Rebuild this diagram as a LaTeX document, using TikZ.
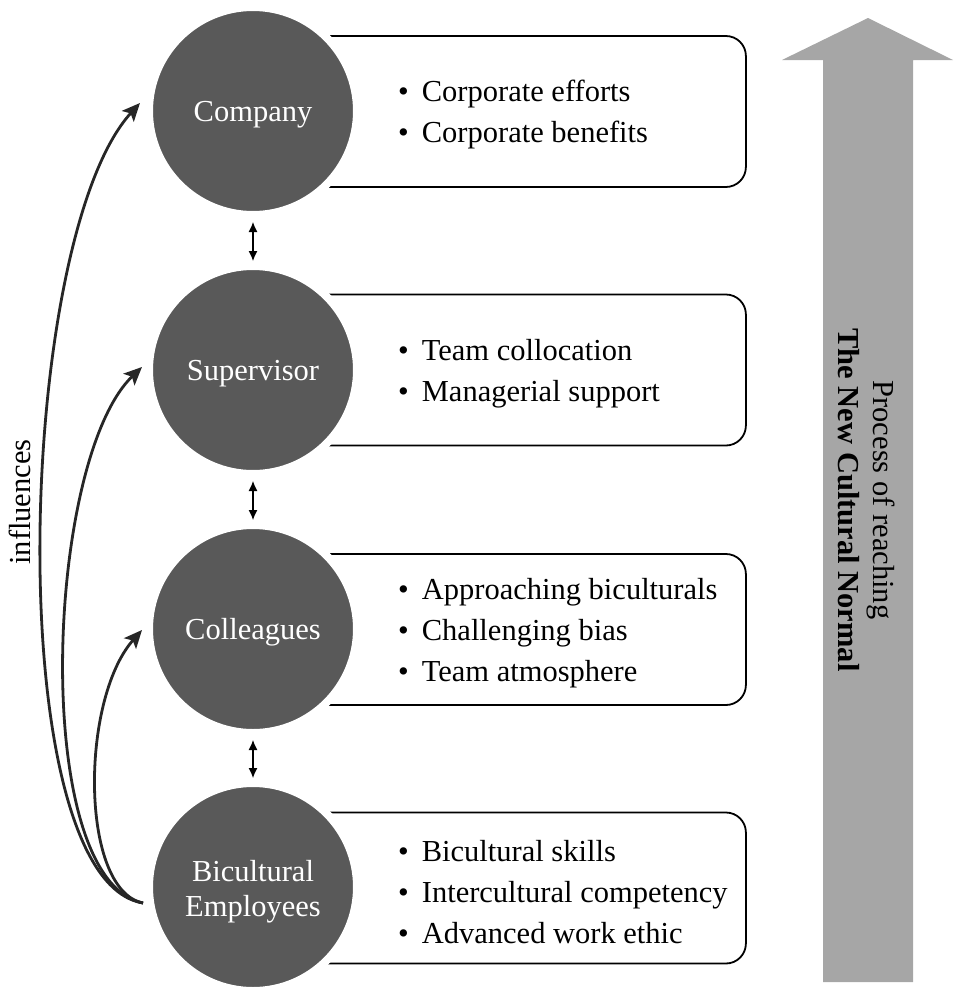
\documentclass[tikz,border=0pt]{standalone}
\usepackage{fontspec}
\setmainfont{Liberation Serif}
\usetikzlibrary{arrows.meta}
\definecolor{circgray}{HTML}{595959}
\definecolor{arrgray}{HTML}{A6A6A6}
\newcommand{\itm}{\textbullet\hspace{13pt}}
\begin{document}
\begin{tikzpicture}[x=1pt,y=-1pt,
 txt/.style={font=\fontsize{30.5}{41}\selectfont},
 circ/.style={circle, fill=circgray, draw=white, line width=8pt, minimum size=208pt, inner sep=0pt, text=white, align=center, text depth=0pt, font=\fontsize{30.5}{35}\selectfont},
 boxst/.style={draw=black, line width=1.8pt, rounded corners=20pt, minimum width=492pt, minimum height=151pt, anchor=west, inner sep=0pt},
 items/.style={txt, align=left, anchor=west, inner sep=0pt},
 dbl/.style={{Latex[length=10pt,width=9pt]}-{Latex[length=10pt,width=9pt]}, line width=1.2pt},
 infl/.style={-{Stealth[length=18pt,width=16pt,inset=4pt]}, line width=2.8pt, draw=black!85, fill=none}
]
\useasboundingbox (0,0) rectangle (953,993);
% big arrow
\fill[arrgray] (823,982) -- (823,60) -- (782,60) -- (868,18) -- (953,60) -- (913,60) -- (913,982) -- cycle;
\node[txt, rotate=-90, align=center, font=\fontsize{30.5}{35}\selectfont] (proc) at (867,500) {Process of reaching\\\textbf{The New Cultural Normal}};
% boxes
\node[boxst] (b1) at (253,111.5) {};
\node[boxst] (b2) at (253,370) {};
\node[boxst] (b3) at (253,629.5) {};
\node[boxst] (b4) at (253,888) {};
% items
\node[items] (i1) at (398,115) {\itm Corporate efforts\\\itm Corporate benefits};
\node[items] (i2) at (398,373.5) {\itm Team collocation\\\itm Managerial support};
\node[items] (i3) at (398,633) {\itm Approaching biculturals\\\itm Challenging bias\\\itm Team atmosphere};
\node[items] (i4) at (398,892) {\itm Bicultural skills\\\itm Intercultural competency\\\itm Advanced work ethic};
% circles
\node[circ] (c1) at (253,111) {Company};
\node[circ] (c2) at (253,370) {Supervisor};
\node[circ] (c3) at (253,629) {Colleagues};
\node[circ] (c4) at (253,887) {\raisebox{-3pt}{Bicultural}\\\raisebox{-3pt}{Employees}};
% double arrows
\draw[dbl, shorten <=3pt, shorten >=1pt] (c1.south) -- (c2.north);
\draw[dbl, shorten <=3pt, shorten >=1pt] (c2.south) -- (c3.north);
\draw[dbl, shorten <=3pt, shorten >=1pt] (c3.south) -- (c4.north);
% influences
\coordinate (s) at (143,903);
\coordinate (t1) at (140,103);
\coordinate (t2) at (142,367);
\coordinate (t3) at (142,630);
\draw[infl] (s) .. controls (0,880) and (15,240) .. (t1);
\draw[infl] (s) .. controls (30,880) and (45,460) .. (t2);
\draw[infl] (s) .. controls (80,890) and (80,700) .. (t3);
\node[txt, rotate=90] (infl) at (20,502) {influences};
\end{tikzpicture}
\end{document}
